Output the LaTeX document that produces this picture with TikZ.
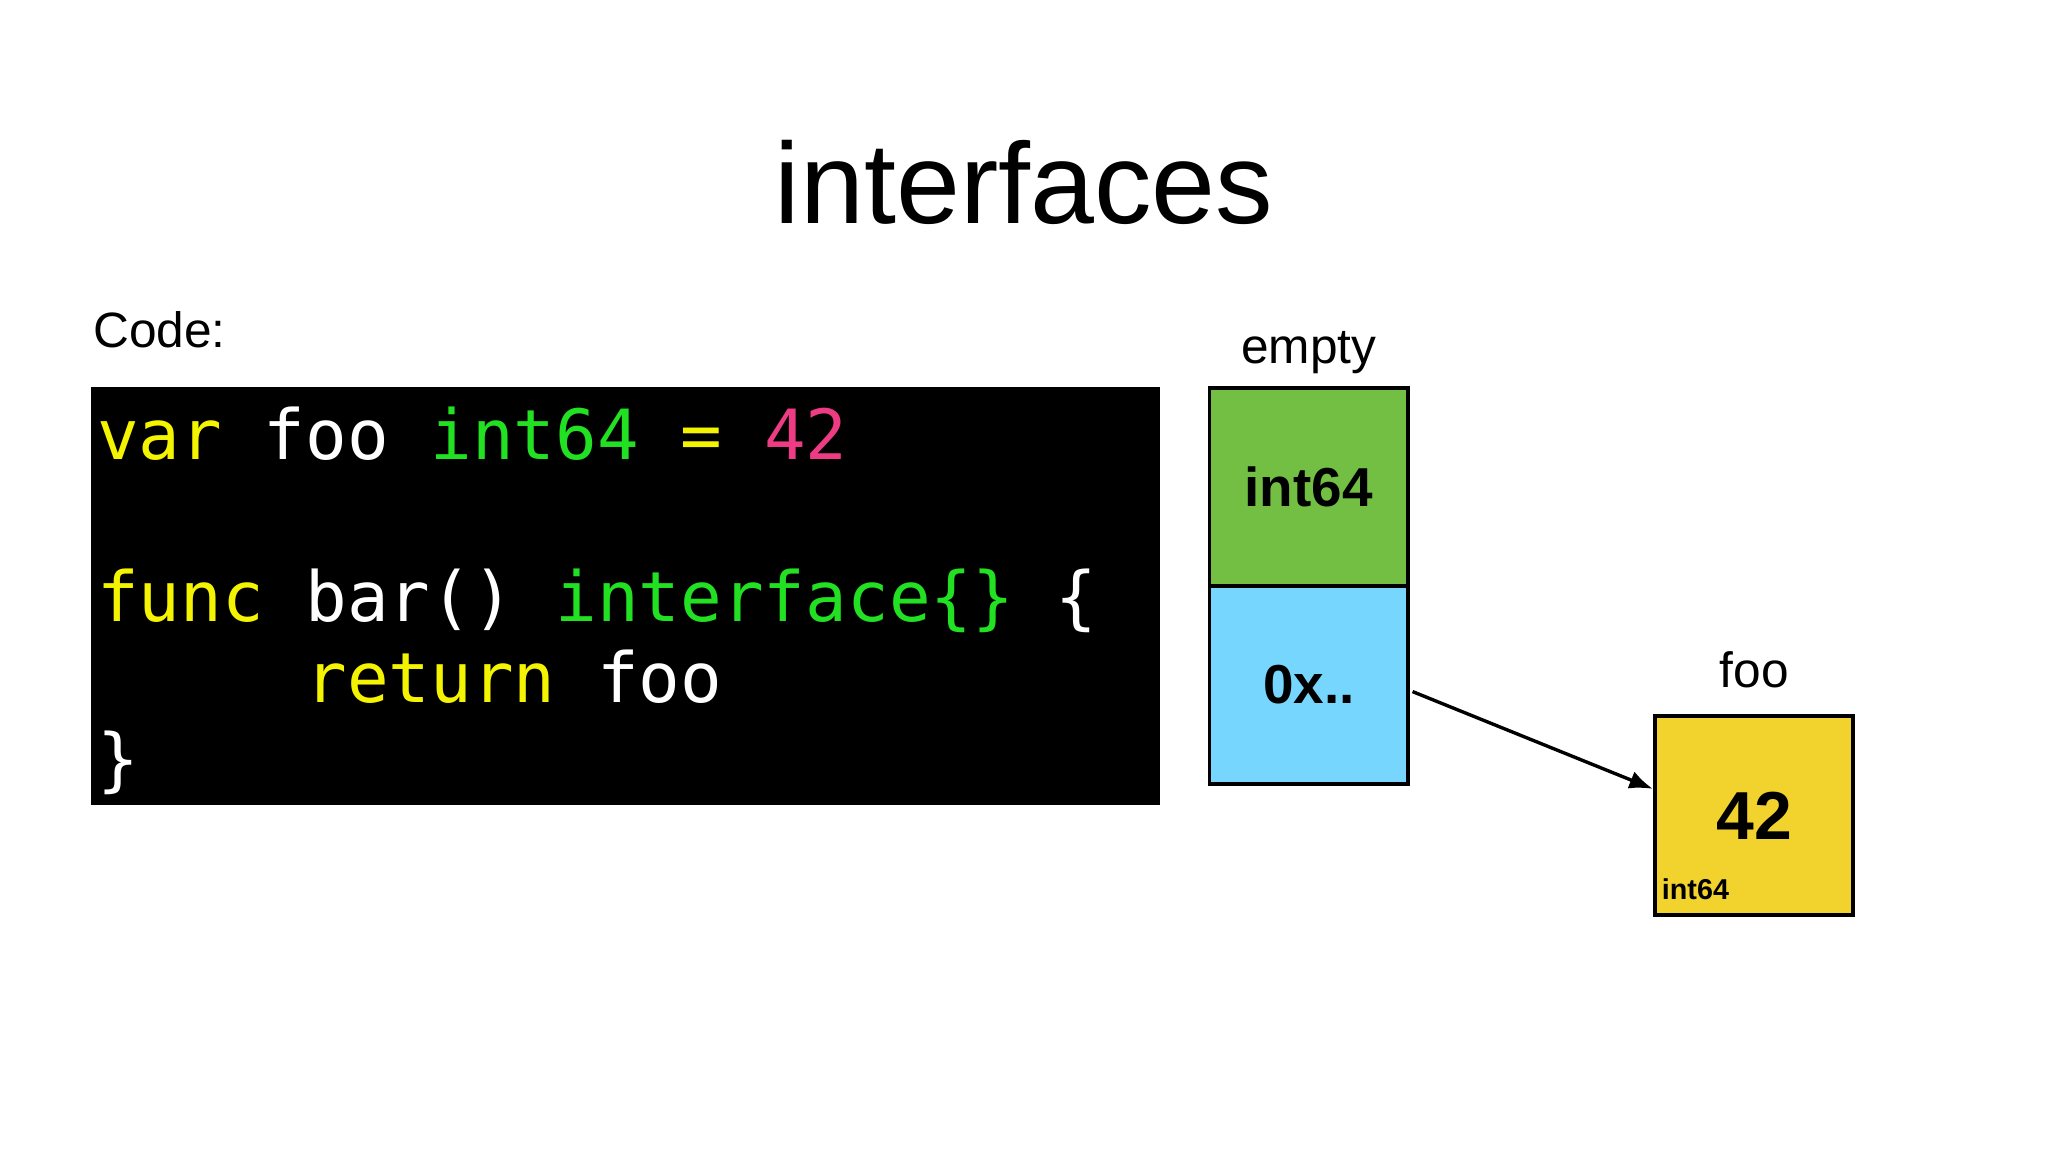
\documentclass[tikz,border=0pt]{standalone}
\usepackage{fontspec}
\setmainfont{Liberation Sans}
\newfontfamily\codefont{DejaVu Sans Mono}
\usetikzlibrary{arrows.meta}
\definecolor{cy}{HTML}{F4F400}
\definecolor{cg}{HTML}{22E022}
\definecolor{cp}{HTML}{EE3C84}
\definecolor{bg}{HTML}{72BF44}
\definecolor{bb}{HTML}{76D6FE}
\definecolor{by}{HTML}{F2D32E}
\begin{document}
\begin{tikzpicture}[x=0.5pt,y=-0.5pt,
  cell/.style={draw=black,line width=1.5pt,minimum width=76pt,minimum height=76pt,inner sep=0pt,font=\bfseries\fontsize{21}{21}\selectfont},
  code/.style={anchor=base west,inner sep=0pt,font=\codefont\fontsize{26.5}{26.5}\selectfont,text=white}]
\useasboundingbox (0,0) rectangle (1568,882);
\node (title) at (784,140) {\fontsize{44}{44}\selectfont interfaces};
\node[anchor=base west,inner sep=0pt] (codelbl) at (71,266) {\fontsize{19}{19}\selectfont Code:};
\fill[black] (70,296) rectangle (888,616);
\node[code] (l1) at (74,352) {\textcolor{cy}{var} foo \textcolor{cg}{int64} \textcolor{cy}{=} \textcolor{cp}{42}};
\node[code] (l3) at (74,476) {\textcolor{cy}{func} bar() \textcolor{cg}{interface\{\}} \{};
\node[code] (l4) at (74,538) {\phantom{func} \textcolor{cy}{return} foo};
\node[code] (l5) at (74,600) {\}};
\node[cell,fill=bg] (typ) at (1002,373) {int64};
\node[cell,fill=bb] (ptr) at (1002,524.5) {0x..};
\node[anchor=base] (emptylbl) at (1002,278) {\fontsize{19}{19}\selectfont empty};
\node[cell,fill=by,font=\bfseries\fontsize{26}{26}\selectfont] (val) at (1343,624.5) {42};
\node[anchor=base west,inner sep=0pt,font=\bfseries\fontsize{11}{11}\selectfont] (vt) at (1272,689) {int64};
\node[anchor=base] (foolbl) at (1343,526) {\fontsize{19}{19}\selectfont foo};
\draw[-{Latex[length=9pt,width=7pt]},line width=1.3pt] (ptr.east)++(2,5) coordinate (s) (s) -- (val.west|-0,604);
\end{tikzpicture}
\end{document}
